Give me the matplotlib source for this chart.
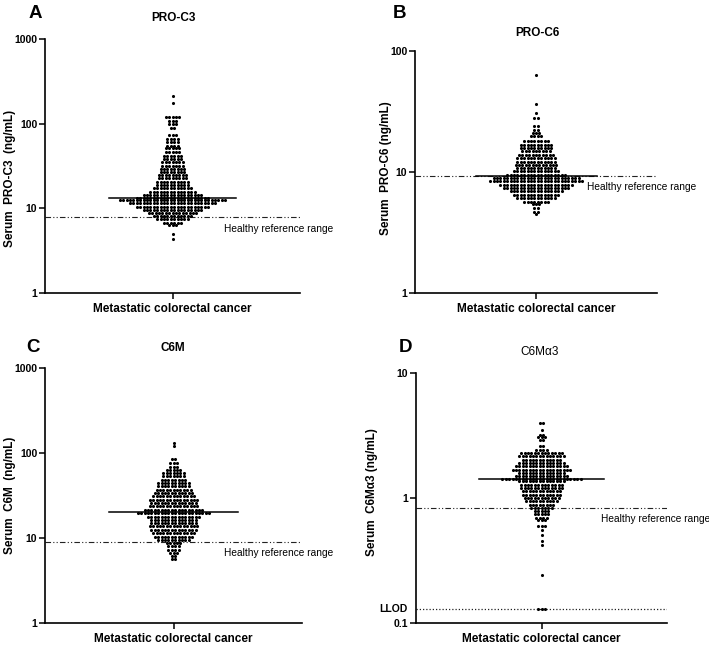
import numpy as np
import matplotlib
matplotlib.use("Agg")
import matplotlib.pyplot as plt
from matplotlib.ticker import FixedLocator, FixedFormatter, NullLocator

plt.rcParams['font.family'] = ['Liberation Sans', 'DejaVu Sans']

# ---------------- data (row values and number of dots per row) ----------------
a_values = [212, 174, 121, 108, 98, 88, 74, 66, 60, 55, 51, 46, 42, 38.5, 35, 32, 29.5, 27,
            24.7, 22.6, 20.7, 18.9, 17.3, 15.8, 14.5, 13.3, 12.5, 11.5, 10.5, 9.6, 8.8, 8.1,
            7.4, 6.8, 6.3, 5.0, 4.35]
a_counts = [1, 1, 5, 3, 3, 2, 3, 4, 4, 4, 5, 5, 6, 6, 7, 7, 8, 8,
            9, 9, 10, 10, 12, 14, 18, 22, 32, 26, 22, 18, 15, 12,
            10, 6, 3, 1, 1]

b_values = [62.8, 36.5, 30.8, 27.9, 23.8, 22.4, 21.0, 19.7, 18.2, 16.8, 15.8, 14.8, 13.9,
            13.0, 12.2, 11.5, 10.8, 10.1, 9.5, 8.9, 8.4, 7.85, 7.4, 6.9, 6.5, 6.1, 5.7,
            5.4, 5.0, 4.7, 4.5]
b_counts = [1, 1, 1, 2, 2, 2, 3, 4, 8, 10, 10, 9, 11,
            12, 12, 13, 12, 14, 18, 26, 28, 22, 20, 16, 14, 12, 8,
            3, 2, 2, 1]

c_values = [130, 121, 85, 75.5, 69, 63.3, 58, 53, 48.3, 44.2, 40.4, 36.9, 33.7, 30.8, 28.2,
            25.7, 23.5, 21.5, 19.6, 17.9, 16.4, 15.0, 13.7, 12.5, 11.4, 10.4, 9.5, 8.7, 8.0,
            7.3, 6.7, 6.1, 5.7]
c_counts = [1, 1, 2, 3, 3, 5, 7, 7, 8, 10, 10, 11, 12, 13, 15,
            14, 15, 18, 22, 16, 14, 14, 15, 14, 13, 12, 10, 5, 4,
            4, 3, 2, 2]

d_values = [3.98, 3.52, 3.21, 3.05, 2.93, 2.59, 2.44, 2.29, 2.15, 2.02, 1.90, 1.79, 1.68,
            1.58, 1.49, 1.43, 1.36, 1.28, 1.20, 1.13, 1.06, 1.0, 0.94, 0.88, 0.83, 0.78,
            0.74, 0.69, 0.67, 0.60, 0.55, 0.51, 0.455, 0.42, 0.24, 0.129]
d_counts = [2, 1, 2, 3, 2, 2, 4, 13, 14, 12, 14, 16, 18,
            14, 16, 24, 14, 13, 13, 12, 12, 11, 10, 8, 7, 5,
            5, 4, 3, 3, 1, 1, 1, 1, 1, 3]

medians = [13.3, 9.3, 20.5, 1.41]
healthy_ref = [8.0, 9.2, 8.9, 0.83]
llod = 0.129

titles = ["PRO-C3", "PRO-C6", "C6M", "C6M\u03b13"]
ylabels = ["Serum  PRO-C3  (ng/mL)", "Serum  PRO-C6 (ng/mL)", "Serum  C6M  (ng/mL)",
           "Serum  C6M\u03b13 (ng/mL)"]
letters = ["A", "B", "C", "D"]
xlabel = "Metastatic colorectal cancer"
ylims = [(1, 1000), (1, 100), (1, 1000), (0.1, 10)]
yticks = [[1, 10, 100, 1000], [1, 10, 100], [1, 10, 100, 1000], [0.1, 1, 10]]
yticklabels = [["1", "10", "100", "1000"], ["1", "10", "100"],
               ["1", "10", "100", "1000"], ["0.1", "1", "10"]]

# ---------------- layout ----------------
W, H = 709, 645
fig = plt.figure(figsize=(W / 100, H / 100), dpi=100)

# axes boxes in pixels: left, top, right, bottom
boxes = [(45, 39, 300, 293), (415, 51, 657, 293), (45, 368, 302, 623), (416, 373, 667, 623)]
title_pos = [(173, 18), (537, 33), (173, 348), (540, 352)]
letter_pos = [(35, 14), (400, 14), (33, 347), (405, 347)]
ylabel_pos = [(10, 178), (386, 168), (10, 495), (372, 492)]
text_pos = [(224, 229), (587, 187), (224, 553), (601, 519)]
title_weight = ["bold", "bold", "bold", "normal"]

datasets = [(a_values, a_counts), (b_values, b_counts), (c_values, c_counts), (d_values, d_counts)]

def fx(px):
    return px / W

def fy(py):
    return 1 - py / H

dot_px = 3.4

for i in range(4):
    l, t, r, b = boxes[i]
    ax = fig.add_axes([fx(l), fy(b), (r - l) / W, (b - t) / H])
    ax.set_yscale('log')
    ax.set_ylim(*ylims[i])
    ax.set_xlim(-1, 1)
    vals, cnts = datasets[i]
    dx = dot_px * 2.0 / (r - l)
    xs, ys = [], []
    for v, n in zip(vals, cnts):
        offs = (np.arange(n) - (n - 1) / 2.0) * dx
        xs.extend(offs)
        ys.extend([v] * n)
    ax.scatter(xs, ys, s=5.0, color='black', linewidths=0, zorder=3, clip_on=False)
    ax.plot([-0.5, 0.5], [medians[i]] * 2, color='black', lw=1.1, zorder=4)
    ax.axhline(healthy_ref[i], color='#222222', lw=0.8,
               linestyle=(0, (5, 2, 1, 2, 1, 2)), zorder=2)
    if i == 3:
        ax.axhline(llod, color='#222222', lw=0.9, linestyle=(0, (1, 1.6)), zorder=2)
        ax.text(-0.035, llod, "LLOD", transform=ax.get_yaxis_transform(), ha='right',
                va='center', fontsize=7.5, fontweight='bold')
    for s in ['top', 'right']:
        ax.spines[s].set_visible(False)
    for s in ['left', 'bottom']:
        ax.spines[s].set_linewidth(1.2)
    ax.yaxis.set_major_locator(FixedLocator(yticks[i]))
    ax.yaxis.set_major_formatter(FixedFormatter(yticklabels[i]))
    ax.yaxis.set_minor_locator(NullLocator())
    ax.set_xticks([0])
    ax.set_xticklabels([""])
    ax.tick_params(axis='both', direction='out', length=4, width=1.1, labelsize=7.5, pad=1.5)
    for lab in ax.get_yticklabels():
        lab.set_fontweight('bold')
    ax.set_xlabel(xlabel, fontsize=8.5, fontweight='bold', labelpad=2)

    fig.text(fx(title_pos[i][0]), fy(title_pos[i][1]), titles[i], ha='center', va='center',
             fontsize=8.5, fontweight=title_weight[i])
    fig.text(fx(letter_pos[i][0]), fy(letter_pos[i][1]), letters[i], ha='center', va='center',
             fontsize=13.5, fontweight='bold')
    fig.text(fx(ylabel_pos[i][0]), fy(ylabel_pos[i][1]), ylabels[i], ha='center', va='center',
             rotation=90, fontsize=8.5, fontweight='bold')
    fig.text(fx(text_pos[i][0]), fy(text_pos[i][1]), "Healthy reference range", ha='left',
             va='center', fontsize=7.3)

fig.savefig("out.png", dpi=100)
